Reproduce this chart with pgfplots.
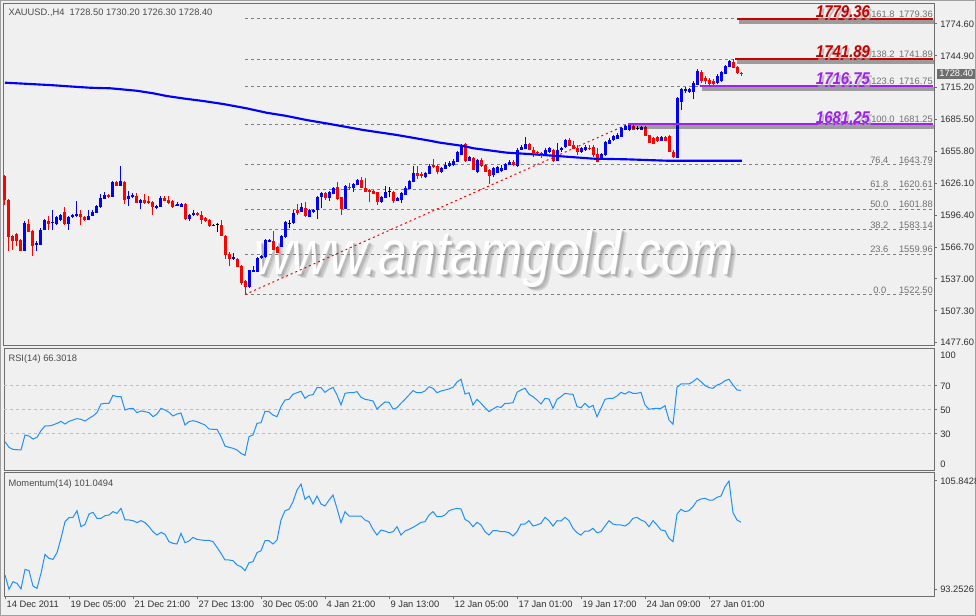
\documentclass[border=0pt]{standalone}
\usepackage{fontspec}
\setmainfont{Liberation Sans}
\usepackage{graphicx}
\usepackage{pgfplots}
\usepackage{pgfplotstable}
\pgfplotsset{compat=1.18}

\definecolor{chartbg}{HTML}{F0F0F0}
\definecolor{frame}{HTML}{6E6E6E}
\definecolor{outer}{HTML}{A0A0A0}
\definecolor{labtxt}{HTML}{303030}
\definecolor{hdrtxt}{HTML}{4A4A4A}
\definecolor{fibtxt}{HTML}{707070}
\definecolor{fibdash}{HTML}{808080}
\definecolor{lvl}{HTML}{BEBEBE}
\definecolor{bull}{HTML}{0000FF}
\definecolor{bear}{HTML}{FF0000}
\definecolor{fibred}{HTML}{C80000}
\definecolor{fibpurp}{HTML}{A020F0}
\definecolor{osc}{HTML}{1E90FF}
\definecolor{shade}{HTML}{A8A8A8}
\definecolor{wmshade}{HTML}{7A7A7A}
\definecolor{pricebox}{HTML}{6E6E6E}

\newcommand\lab{\fontsize{7pt}{8pt}\selectfont}
\newcommand\fib[1]{\scalebox{0.88}[1]{\fontsize{12.75pt}{13pt}\selectfont\bfseries\itshape #1}}
\newcommand\wm{\scalebox{0.83}[1]{\fontsize{47pt}{50pt}\selectfont\itshape www.antamgold.com}}

% XAUUSD H4 bars: index, open, high, low, close
\pgfplotstableread{
x o h l c
0 1632.7 1634.3 1606.3 1611.0
1 1611.0 1611.6 1562.8 1576.8
2 1577.4 1578.4 1564.4 1573.1
3 1579.0 1579.9 1567.5 1573.1
4 1573.1 1574.3 1562.8 1563.8
5 1563.8 1590.8 1562.8 1589.3
6 1588.6 1593.3 1580.6 1581.5
7 1582.1 1583.0 1558.8 1568.1
8 1569.1 1572.2 1562.8 1570.6
9 1569.1 1584.3 1568.4 1583.0
10 1583.0 1593.0 1582.4 1591.7
11 1591.4 1595.5 1583.0 1588.6
12 1589.3 1601.1 1583.0 1589.9
13 1588.6 1596.1 1587.7 1594.8
14 1592.4 1597.9 1590.8 1597.0
15 1599.8 1604.2 1587.7 1588.6
16 1588.6 1596.1 1582.4 1594.8
17 1594.8 1597.3 1593.6 1596.4
18 1596.1 1609.4 1594.8 1597.9
19 1597.9 1601.7 1587.7 1594.8
20 1594.8 1596.1 1590.8 1592.4
21 1592.4 1601.1 1591.7 1596.1
22 1596.1 1601.1 1595.5 1599.8
23 1599.2 1606.0 1598.6 1604.8
24 1604.2 1616.6 1603.2 1612.9
25 1612.2 1618.1 1611.6 1615.6
26 1615.0 1616.3 1612.2 1613.8
27 1614.1 1628.1 1613.5 1627.2
28 1627.5 1628.4 1623.4 1624.4
29 1624.4 1642.1 1624.0 1628.1
30 1627.8 1628.4 1607.3 1611.0
31 1611.6 1618.8 1605.4 1614.1
32 1613.5 1617.2 1612.6 1615.0
33 1614.7 1617.2 1607.9 1608.5
34 1607.9 1611.9 1602.3 1611.0
35 1611.0 1616.3 1607.3 1607.9
36 1609.4 1614.1 1607.3 1607.9
37 1608.5 1609.8 1596.7 1604.8
38 1603.2 1606.3 1602.6 1605.4
39 1604.8 1614.1 1604.2 1612.9
40 1612.9 1614.1 1609.4 1610.4
41 1611.0 1614.1 1607.3 1607.9
42 1609.4 1610.4 1603.2 1604.8
43 1605.4 1608.5 1604.8 1607.3
44 1604.8 1607.9 1604.2 1607.3
45 1607.3 1607.9 1592.4 1593.0
46 1593.3 1597.9 1590.8 1597.0
47 1597.0 1601.1 1596.1 1598.6
48 1598.6 1599.5 1596.1 1597.0
49 1597.0 1600.1 1588.6 1592.4
50 1593.6 1594.5 1590.5 1591.4
51 1592.4 1593.3 1585.2 1586.8
52 1586.8 1588.6 1586.1 1587.7
53 1587.7 1589.3 1580.6 1587.7
54 1587.7 1592.4 1576.8 1577.4
55 1577.4 1578.4 1555.7 1559.7
56 1560.7 1561.9 1548.9 1555.7
57 1555.7 1561.3 1555.1 1557.2
58 1555.7 1556.6 1548.2 1548.9
59 1548.9 1550.4 1531.8 1533.9
60 1534.9 1535.8 1522.5 1529.6
61 1529.6 1545.8 1528.7 1545.1
62 1544.2 1548.9 1543.3 1545.8
63 1544.2 1557.6 1543.3 1556.6
64 1556.6 1559.7 1555.7 1558.2
65 1557.6 1574.3 1556.6 1573.1
66 1572.2 1574.3 1571.2 1573.1
67 1572.2 1581.5 1563.8 1564.4
68 1566.6 1567.5 1561.3 1561.9
69 1567.5 1578.4 1566.9 1576.8
70 1576.2 1590.8 1575.3 1589.9
71 1588.6 1592.4 1584.6 1588.6
72 1589.3 1601.1 1588.6 1598.6
73 1601.7 1607.3 1597.0 1598.6
74 1600.1 1607.9 1599.2 1603.9
75 1603.2 1608.5 1594.8 1596.1
76 1595.5 1602.3 1594.8 1601.1
77 1599.5 1602.3 1598.6 1601.1
78 1601.7 1614.7 1593.0 1613.5
79 1613.6 1618.3 1602.8 1616.7
80 1616.7 1617.7 1610.5 1612.7
81 1612.7 1618.9 1609.6 1617.7
82 1616.7 1622.9 1615.8 1622.0
83 1622.9 1627.0 1610.5 1612.1
84 1613.0 1613.6 1596.5 1602.8
85 1602.8 1624.5 1602.1 1623.6
86 1622.9 1626.1 1619.8 1622.0
87 1622.0 1626.4 1617.7 1625.4
88 1625.1 1630.1 1624.5 1628.9
89 1628.9 1632.3 1621.4 1622.0
90 1622.0 1631.3 1618.3 1618.9
91 1619.8 1620.8 1608.3 1618.3
92 1618.6 1619.5 1615.8 1616.7
93 1617.7 1618.3 1605.9 1609.0
94 1609.0 1614.6 1608.0 1613.6
95 1612.7 1623.9 1612.1 1618.3
96 1618.3 1622.9 1613.6 1618.3
97 1618.3 1618.9 1607.4 1610.5
98 1610.5 1613.6 1609.6 1612.7
99 1611.5 1617.7 1607.4 1616.7
100 1615.8 1623.6 1615.2 1622.0
101 1621.4 1629.2 1620.8 1628.2
102 1627.6 1642.2 1627.0 1636.0
103 1636.0 1642.2 1630.1 1633.2
104 1634.4 1636.3 1631.3 1633.2
105 1632.3 1636.9 1631.3 1636.0
106 1635.4 1643.8 1634.4 1642.5
107 1643.1 1648.4 1640.7 1641.6
108 1642.2 1643.1 1634.4 1637.6
109 1637.6 1641.6 1635.4 1640.0
110 1640.0 1645.6 1639.1 1643.1
111 1642.5 1646.9 1641.6 1645.3
112 1643.8 1648.8 1642.6 1647.2
113 1646.9 1656.2 1646.3 1655.0
114 1653.1 1662.4 1652.5 1661.2
115 1662.4 1663.4 1645.7 1647.8
116 1647.8 1651.9 1646.9 1651.0
117 1649.4 1650.3 1638.2 1639.4
118 1637.0 1648.8 1635.4 1647.8
119 1647.8 1650.0 1641.6 1642.6
120 1643.2 1644.1 1636.3 1637.6
121 1638.5 1639.4 1625.2 1633.2
122 1634.5 1641.0 1632.3 1640.1
123 1636.3 1642.6 1635.4 1641.6
124 1638.2 1643.2 1637.0 1640.7
125 1639.4 1645.4 1638.5 1644.1
126 1643.8 1647.5 1643.2 1646.3
127 1646.3 1647.8 1642.6 1643.8
128 1642.6 1658.7 1641.6 1657.2
129 1658.1 1661.8 1657.2 1660.3
130 1658.7 1669.0 1658.1 1662.7
131 1662.4 1663.4 1656.8 1657.8
132 1657.2 1660.3 1651.0 1654.0
133 1655.6 1656.5 1653.1 1654.7
134 1654.0 1655.6 1650.0 1652.5
135 1652.5 1658.7 1651.6 1657.2
136 1655.6 1660.3 1654.7 1658.7
137 1657.2 1658.1 1646.3 1647.8
138 1647.8 1663.4 1646.9 1657.2
139 1657.2 1659.9 1655.6 1658.7
140 1660.3 1667.4 1659.3 1666.5
141 1666.5 1668.0 1660.9 1661.8
142 1662.0 1666.0 1658.2 1658.8
143 1659.5 1661.4 1652.6 1655.7
144 1655.7 1660.1 1654.8 1658.8
145 1657.3 1662.0 1656.3 1660.4
146 1659.5 1661.4 1657.3 1658.2
147 1659.8 1661.4 1651.0 1652.6
148 1653.2 1658.8 1645.7 1646.9
149 1649.4 1654.8 1648.2 1653.2
150 1652.6 1665.7 1652.0 1664.5
151 1663.5 1668.2 1662.6 1666.7
152 1666.7 1670.8 1665.7 1669.8
153 1668.2 1672.9 1667.6 1671.4
154 1669.8 1678.9 1668.9 1677.6
155 1676.5 1680.1 1675.5 1679.2
156 1676.1 1681.25 1675.1 1680.1
157 1679.2 1680.8 1675.8 1676.7
158 1677.6 1679.8 1675.4 1677.6
159 1676.7 1679.8 1675.8 1678.6
160 1678.6 1679.5 1669.8 1670.8
161 1670.8 1671.4 1663.5 1664.5
162 1668.2 1669.5 1662.6 1663.5
163 1668.9 1669.8 1664.8 1665.7
164 1665.7 1670.1 1665.1 1668.9
165 1669.2 1670.1 1665.1 1666.0
166 1669.8 1670.8 1655.1 1655.7
167 1655.7 1657.3 1649.4 1651.0
168 1650.1 1706.5 1649.4 1705.9
169 1702.7 1715.3 1694.9 1713.7
170 1712.7 1715.9 1710.5 1713.7
171 1712.1 1715.3 1710.5 1713.7
172 1712.1 1721.5 1704.3 1719.9
173 1718.4 1732.5 1717.8 1730.9
174 1730.3 1731.5 1719.9 1721.5
175 1724.7 1726.2 1719.0 1721.5
176 1722.1 1724.0 1717.8 1719.0
177 1721.5 1723.1 1715.9 1719.0
178 1719.9 1727.8 1718.4 1726.2
179 1721.5 1730.9 1720.9 1729.4
180 1728.4 1736.6 1727.8 1735.6
181 1734.7 1741.0 1734.1 1739.7
182 1738.8 1741.89 1733.4 1734.1
183 1734.7 1735.6 1728.4 1729.4
184 1728.5 1730.2 1726.3 1728.4
}\candles

% moving average
\pgfplotstableread{
x v
0 1719.9
6.25 1718.7
12.1 1717.5
17.1 1716.2
21.25 1715.2
26.25 1714.7
29.2 1713.7
32.9 1712.4
37.1 1710.0
40.4 1707.5
45 1705.0
49.6 1702.8
54.6 1700.0
60.4 1696.0
65.4 1691.9
70.4 1688.9
75.4 1685.1
81.25 1681.4
89.6 1675.8
97.9 1671.2
106.25 1665.8
108.75 1664.0
114.6 1660.9
117.1 1658.8
125.4 1654.7
132 1653.2
141.25 1650.7
147 1649.1
155.4 1648.5
165.4 1647.2
184.2 1647.2
}\ma

\pgfplotstableread{
x v
0 23.6
1 18.9
2 17.2
3 16.9
4 16.7
5 29.2
6 28.3
7 25.8
8 27.2
9 32.8
10 36.7
11 36.7
12 37.5
13 38.9
14 40.5
15 38.3
16 40.5
17 41.7
18 42.8
19 42.2
20 40.8
21 43.0
22 45.0
23 47.8
24 55.0
25 55.6
26 55.6
27 62.2
28 61.1
29 61.1
30 50.0
31 51.1
32 51.4
33 47.8
34 49.2
35 48.6
36 47.8
37 44.4
38 46.7
39 51.4
40 50.0
41 48.1
42 45.0
43 46.7
44 47.5
45 37.5
46 40.3
47 41.1
48 40.3
49 38.9
50 37.5
51 34.2
52 33.9
53 33.9
54 27.8
55 20.0
56 18.9
57 18.1
58 16.7
59 13.9
60 12.2
61 27.8
62 29.2
63 38.9
64 39.4
65 48.9
66 48.6
67 45.8
68 44.4
69 52.8
70 58.3
71 58.9
72 63.1
73 64.4
74 65.6
75 59.7
76 62.2
77 62.8
78 68.6
79 68.6
80 64.7
81 67.2
82 68.9
83 62.5
84 54.2
85 63.9
86 64.4
87 64.4
88 65.3
89 60.6
90 58.9
91 58.3
92 57.5
93 50.8
94 53.9
95 56.7
96 56.4
97 50.8
98 51.9
99 55.6
100 58.9
101 62.5
102 66.1
103 64.4
104 64.4
105 65.8
106 69.4
107 68.1
108 64.4
109 65.8
110 66.7
111 67.5
112 68.9
113 73.3
114 75.6
115 63.3
116 64.4
117 54.2
118 58.9
119 55.6
120 51.9
121 48.6
122 50.8
123 52.8
124 52.2
125 55.6
126 55.6
127 56.1
128 64.7
129 66.7
130 68.1
131 63.1
132 61.1
133 58.3
134 55.0
135 59.7
136 59.2
137 51.4
138 58.9
139 61.1
140 63.9
141 63.3
142 63.1
143 52.8
144 51.9
145 55.6
146 52.2
147 53.9
148 44.4
149 51.4
150 58.9
151 59.7
152 59.7
153 61.7
154 64.7
155 63.3
156 65.3
157 63.9
158 63.9
159 64.7
160 54.2
161 50.6
162 51.1
163 51.4
164 51.4
165 53.6
166 41.7
167 38.1
168 68.9
169 71.7
170 71.7
171 71.7
172 73.6
173 76.4
174 73.6
175 70.3
176 68.6
177 68.1
178 70.8
179 72.0
180 74.4
181 75.6
182 70.8
183 66.7
184 66.3
}\rsi

\pgfplotstableread{
x v
0 94.91
1 93.25
2 94.14
3 93.94
4 93.29
5 95.57
6 95.42
7 93.63
8 93.36
9 95.11
10 97.32
11 96.85
12 96.73
13 97.51
14 99.18
15 101.11
16 101.58
17 101.62
18 102.39
19 100.53
20 100.80
21 102.00
22 102.20
23 101.50
24 101.50
25 101.81
26 101.89
27 102.28
28 102.08
29 102.66
30 101.31
31 101.31
32 101.23
33 101.00
34 101.23
35 101.00
36 100.53
37 99.95
38 99.56
39 99.87
40 99.64
41 98.79
42 98.59
43 98.52
44 99.76
45 98.67
46 98.87
47 99.29
48 99.06
49 98.98
50 98.94
51 98.94
52 98.79
53 98.13
54 97.43
55 96.66
56 96.66
57 96.58
58 96.08
59 95.88
60 95.42
61 96.35
62 96.46
63 97.51
64 97.74
65 98.90
66 98.90
67 98.52
68 98.98
69 101.31
70 102.39
71 102.55
72 103.44
73 104.79
74 105.49
75 103.71
76 104.10
77 103.17
78 104.10
79 103.17
80 102.93
81 103.63
82 104.21
83 102.66
84 101.00
85 102.28
86 101.77
87 101.77
88 101.77
89 101.77
90 101.31
91 101.11
92 100.22
93 99.56
94 100.14
95 100.03
96 99.83
97 99.95
98 100.53
99 99.56
100 100.03
101 100.22
102 100.45
103 100.73
104 101.04
105 101.11
106 101.89
107 102.28
108 101.69
109 101.69
110 101.89
111 102.39
112 102.55
113 102.66
114 102.59
115 101.38
116 101.11
117 100.53
118 101.04
119 100.73
120 99.95
121 99.56
122 100.07
123 100.07
124 99.95
125 99.95
126 99.83
127 99.45
128 99.95
129 100.84
130 100.84
131 101.23
132 100.61
133 100.73
134 100.92
135 101.62
136 101.23
137 100.61
138 101.23
139 101.19
140 101.62
141 101.23
142 100.34
143 99.83
144 99.56
145 100.03
146 100.03
147 100.34
148 99.83
149 99.95
150 100.61
151 101.23
152 100.84
153 100.73
154 100.73
155 100.61
156 100.92
157 101.50
158 101.62
159 101.31
160 101.11
161 100.53
162 101.23
163 100.73
164 100.14
165 100.07
166 99.18
167 98.79
168 102.00
169 102.55
170 102.28
171 102.39
172 102.86
173 103.55
174 103.75
175 103.83
176 103.63
177 103.63
178 103.94
179 104.10
180 105.18
181 105.84
182 102.16
183 101.31
184 101.05
}\mom

\pgfplotsset{
  panel/.style={
    scale only axis, width=697.5pt,
    xmin=-0.25, xmax=232.25,
    axis line style={draw=frame, line width=0.75pt},
    every tick/.style={draw=frame, line width=0.75pt},
    tick align=outside, major tick length=2.25pt,
    ytick pos=right, yticklabel pos=right,
    xtick=\empty,
    ticklabel style={font=\lab, text=labtxt},
    yticklabel style={anchor=west, inner sep=0pt, xshift=2.25pt},
    /pgf/number format/assume math mode=true,
    /pgf/number format/1000 sep={},
    scaled y ticks=false,
    clip=false,
  },
  wick/.style={draw=none, mark=none, forget plot,
    error bars/y dir=plus, error bars/y explicit, error bars/error mark=none,
    error bars/error bar style={line width=0.75pt, draw=#1, solid}},
  body/.style={color=#1, only marks, mark=-, mark size=1.125pt,
    mark options={draw=#1, line width=0.75pt, solid}, forget plot,
    error bars/y dir=plus, error bars/y explicit, error bars/error mark=none,
    error bars/error bar style={line width=2.25pt, draw=#1, solid}},
  fibline/.style={fibdash, line width=0.75pt, dash pattern=on 2.25pt off 2.25pt, forget plot},
  lvlshadow/.style={shade, line width=3pt, opacity=0.35, forget plot},
}
\tikzset{
  pct/.style={anchor=south west, text=fibtxt, font=\lab, inner sep=0.75pt},
  val/.style={anchor=south east, text=fibtxt, font=\lab, inner sep=0.75pt},
}

\begin{document}
\begin{tikzpicture}
\fill[chartbg] (0,0) rectangle (732pt,-462pt);
\draw[outer, line width=0.75pt] (0.375pt,-0.375pt) rectangle (731.625pt,-461.625pt);

% watermark behind the chart: soft shadow, then white face
\node[anchor=base, text=wmshade, opacity=0.18, inner sep=0pt] at (374.25pt,-209.25pt) {\wm};
\node[anchor=base, text=wmshade, opacity=0.22, inner sep=0pt] at (373.125pt,-208.125pt) {\wm};
\node[anchor=base, text=wmshade, opacity=0.30, inner sep=0pt] at (372pt,-207.4pt) {\wm};
\node[anchor=base, text=white, inner sep=0pt] at (370.5pt,-206.25pt) {\wm};

% ---------- price window ----------
\begin{axis}[panel, at={(3pt,-3pt)}, anchor=north west, height=256.5pt,
  ymin=1474.52, ymax=1793.24,
  ytick={1477.6,1507.3,1537.0,1566.7,1596.4,1626.1,1655.8,1685.5,1715.2,1744.9,1774.6},
  yticklabel style={/pgf/number format/fixed, /pgf/number format/fixed zerofill,
    /pgf/number format/precision=2}]

\addplot[fibline] coordinates {(60,1779.36) (232.25,1779.36)};
\addplot[fibline] coordinates {(60,1741.89) (232.25,1741.89)};
\addplot[fibline] coordinates {(60,1716.75) (232.25,1716.75)};
\addplot[fibline] coordinates {(60,1681.25) (232.25,1681.25)};
\addplot[fibline] coordinates {(60,1643.79) (232.25,1643.79)};
\addplot[fibline] coordinates {(60,1620.61) (232.25,1620.61)};
\addplot[fibline] coordinates {(60,1601.88) (232.25,1601.88)};
\addplot[fibline] coordinates {(60,1583.14) (232.25,1583.14)};
\addplot[fibline] coordinates {(60,1559.96) (232.25,1559.96)};
\addplot[fibline] coordinates {(60,1522.50) (232.25,1522.50)};

\addplot[bear, line width=0.75pt, dash pattern=on 1.5pt off 2.25pt, forget plot]
  coordinates {(60,1522.50) (155.75,1681.25)};

% candles: wicks from low to high, bodies from open to close
\addplot[wick=bull, restrict expr to domain={\thisrow{c}-\thisrow{o}}{0.05:1000}]
  table[x=x, y=l, y error plus expr=\thisrow{h}-\thisrow{l}] {\candles};
\addplot[body=bull, restrict expr to domain={\thisrow{c}-\thisrow{o}}{0.05:1000}]
  table[x=x, y=o, y error plus expr=\thisrow{c}-\thisrow{o}] {\candles};
\addplot[wick=bear, restrict expr to domain={\thisrow{c}-\thisrow{o}}{-1000:-0.05}]
  table[x=x, y=l, y error plus expr=\thisrow{h}-\thisrow{l}] {\candles};
\addplot[body=bear, restrict expr to domain={\thisrow{c}-\thisrow{o}}{-1000:-0.05}]
  table[x=x, y=c, y error plus expr=\thisrow{o}-\thisrow{c}] {\candles};
\addplot[wick=black, restrict expr to domain={\thisrow{c}-\thisrow{o}}{-0.05:0.05}]
  table[x=x, y=l, y error plus expr=\thisrow{h}-\thisrow{l}] {\candles};
\addplot[black, only marks, mark=-, mark size=1.125pt, mark options={line width=0.75pt}, forget plot,
  restrict expr to domain={\thisrow{c}-\thisrow{o}}{-0.05:0.05}]
  table[x=x, y=c] {\candles};

% moving average
\addplot[bull, line width=1.6pt, forget plot] table[x=x, y=v] {\ma};

% horizontal levels with shadow
\addplot[lvlshadow] coordinates {(183.5,1776.4) (232.25,1776.4)};
\addplot[lvlshadow] coordinates {(183,1738.9) (232.25,1738.9)};
\addplot[lvlshadow] coordinates {(174.25,1713.8) (232.25,1713.8)};
\addplot[lvlshadow] coordinates {(156.25,1678.3) (232.25,1678.3)};
\addplot[fibred, line width=1.5pt, forget plot] coordinates {(183,1779.36) (232,1779.36)};
\addplot[fibred, line width=1.5pt, forget plot] coordinates {(182.5,1741.89) (232,1741.89)};
\addplot[fibpurp, line width=1.5pt, forget plot] coordinates {(173.75,1716.75) (232,1716.75)};
\addplot[fibpurp, line width=1.5pt, forget plot] coordinates {(155.75,1681.25) (232,1681.25)};

% level captions
\node[anchor=south east, text=shade, opacity=0.7, inner sep=0.5pt, xshift=1.5pt, yshift=-2.25pt] at (axis cs:216.5,1779.36) {\fib{1779.36}};
\node[anchor=south east, text=fibred, inner sep=0.5pt] at (axis cs:216.5,1779.36) {\fib{1779.36}};
\node[anchor=south east, text=shade, opacity=0.7, inner sep=0.5pt, xshift=1.5pt, yshift=-2.25pt] at (axis cs:216.5,1741.89) {\fib{1741.89}};
\node[anchor=south east, text=fibred, inner sep=0.5pt] at (axis cs:216.5,1741.89) {\fib{1741.89}};
\node[anchor=south east, text=shade, opacity=0.7, inner sep=0.5pt, xshift=1.5pt, yshift=-2.25pt] at (axis cs:216.5,1716.75) {\fib{1716.75}};
\node[anchor=south east, text=fibpurp, inner sep=0.5pt] at (axis cs:216.5,1716.75) {\fib{1716.75}};
\node[anchor=south east, text=shade, opacity=0.7, inner sep=0.5pt, xshift=1.5pt, yshift=-2.25pt] at (axis cs:216.5,1681.25) {\fib{1681.25}};
\node[anchor=south east, text=fibpurp, inner sep=0.5pt] at (axis cs:216.5,1681.25) {\fib{1681.25}};

\node[pct] at (axis cs:216.25,1779.36) {161.8};
\node[val] at (axis cs:232.25,1779.36) {1779.36};
\node[pct] at (axis cs:216.25,1741.89) {138.2};
\node[val] at (axis cs:232.25,1741.89) {1741.89};
\node[pct] at (axis cs:216.25,1716.75) {123.6};
\node[val] at (axis cs:232.25,1716.75) {1716.75};
\node[pct] at (axis cs:216.25,1681.25) {100.0};
\node[val] at (axis cs:232.25,1681.25) {1681.25};
\node[pct] at (axis cs:216,1643.79) {76.4};
\node[val] at (axis cs:232.25,1643.79) {1643.79};
\node[pct] at (axis cs:216,1620.61) {61.8};
\node[val] at (axis cs:232.25,1620.61) {1620.61};
\node[pct] at (axis cs:216,1601.88) {50.0};
\node[val] at (axis cs:232.25,1601.88) {1601.88};
\node[pct] at (axis cs:216,1583.14) {38.2};
\node[val] at (axis cs:232.25,1583.14) {1583.14};
\node[pct] at (axis cs:216,1559.96) {23.6};
\node[val] at (axis cs:232.25,1559.96) {1559.96};
\node[pct] at (axis cs:216.75,1522.50) {0.0};
\node[val] at (axis cs:232.25,1522.50) {1522.50};

\node[fill=pricebox, text=white, font=\lab, inner sep=1pt, minimum width=28.5pt, minimum height=7.5pt,
  anchor=west, xshift=2.25pt] at (axis cs:232.25,1728.4) {1728.40};
\end{axis}

\node[anchor=west, font=\lab, text=hdrtxt, inner sep=0pt] at (6.2pt,-9.5pt)
  {XAUUSD.,H4\ \ 1728.50 1730.20 1726.30 1728.40};

% ---------- RSI window ----------
\begin{axis}[panel, at={(3pt,-261.75pt)}, anchor=north west, height=91.5pt,
  ymin=-0.83, ymax=100.83, ytick={30,50,70}]
\addplot[lvl, line width=0.75pt, dash pattern=on 2.25pt off 2.25pt, forget plot] coordinates {(-0.25,30) (232.25,30)};
\addplot[lvl, line width=0.75pt, dash pattern=on 2.25pt off 2.25pt, forget plot] coordinates {(-0.25,50) (232.25,50)};
\addplot[lvl, line width=0.75pt, dash pattern=on 2.25pt off 2.25pt, forget plot] coordinates {(-0.25,70) (232.25,70)};
\addplot[osc, line width=0.75pt] table[x=x, y=v] {\rsi};
\node[anchor=west, font=\lab, text=labtxt, inner sep=0pt, xshift=4.5pt, yshift=-4.5pt] at (rel axis cs:1,1) {100};
\node[anchor=west, font=\lab, text=labtxt, inner sep=0pt, xshift=4.5pt, yshift=5.25pt] at (rel axis cs:1,0) {0};
\end{axis}
\node[anchor=west, font=\lab, text=hdrtxt, inner sep=0pt] at (6.2pt,-269pt) {RSI(14) 66.3018};

% ---------- Momentum window ----------
\begin{axis}[panel, at={(3pt,-354.75pt)}, anchor=north west, height=92.25pt,
  ymin=92.474, ymax=106.773, ytick={93.2526,105.8428}, yticklabels={93.2526,105.8428},
  xtick={0,16,32,48,64,80,96,112,128,144,160,176},
  xticklabels={14 Dec 2011,19 Dec 05:00,21 Dec 21:00,27 Dec 13:00,30 Dec 05:00,4 Jan 21:00,
    9 Jan 13:00,12 Jan 05:00,17 Jan 01:00,19 Jan 17:00,24 Jan 09:00,27 Jan 01:00},
  xtick pos=bottom,
  xticklabel style={anchor=north west, inner sep=0pt, xshift=1pt, yshift=-1pt}]
\addplot[osc, line width=0.75pt] table[x=x, y=v] {\mom};
\end{axis}
\node[anchor=west, font=\lab, text=hdrtxt, inner sep=0pt] at (6.2pt,-363pt) {Momentum(14) 101.0494};

\pgfresetboundingbox
\path[use as bounding box] (0,0) rectangle (732pt,-462pt);
\end{tikzpicture}
\end{document}
